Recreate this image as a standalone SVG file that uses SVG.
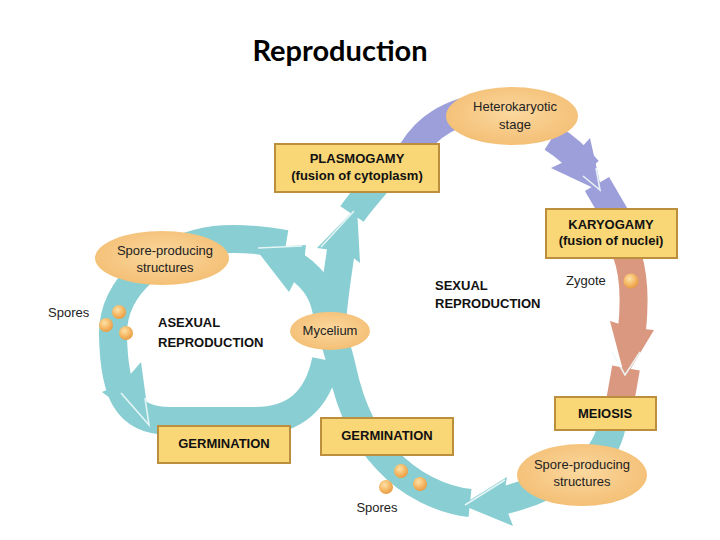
<svg xmlns="http://www.w3.org/2000/svg" width="720" height="540" viewBox="0 0 720 540">
<defs>
<radialGradient id="og" cx="50%" cy="45%" r="60%">
<stop offset="0" stop-color="#fbd89e"/>
<stop offset="1" stop-color="#f3bd72"/>
</radialGradient>
<radialGradient id="ball" cx="40%" cy="35%" r="65%">
<stop offset="0" stop-color="#fde2a8"/>
<stop offset="0.6" stop-color="#f5b865"/>
<stop offset="1" stop-color="#e99d45"/>
</radialGradient>
<style>
.teal{fill:none;stroke:#88ced2;stroke-width:28}
.purp{fill:none;stroke:#9d9fda;stroke-width:28}
.salm{fill:none;stroke:#d9987f;stroke-width:28}
.ahT{fill:#88ced2}
.ahP{fill:#9d9fda}
.ahS{fill:#d9987f}
.hl{fill:none;stroke:#eef9f9;stroke-width:1.6;stroke-opacity:0.9}
.box{fill:#f9d777;stroke:#bb8f3e;stroke-width:2}
.ell{fill:url(#og)}
.sp{fill:url(#ball)}
.lbl{font-family:"Liberation Sans",Arial,sans-serif;font-size:13px;fill:#222}
.bold{font-family:"Liberation Sans",Arial,sans-serif;font-size:13px;font-weight:bold;fill:#111}
.mid{text-anchor:middle}
</style>
</defs>
<rect width="720" height="540" fill="#ffffff"/>
<text x="340" y="61" text-anchor="middle" font-family="Lato,'Liberation Sans',sans-serif" font-weight="bold" font-size="29" fill="#000">Reproduction</text>

<g id="connectors">
<!-- asexual ring -->
<path class="teal" d="M286,244 C250,238 230,238 215,240 C160,248 112,285 113,335 C114,392 126,421 170,421 L255,421 C295,421 318,400 326,360"/>
<!-- trunks from mycelium -->
<path class="teal" d="M328,322 C326,296 316,280 296,266"/>
<path class="teal" d="M332,322 C334,295 338,272 341,250"/>
<path class="teal" d="M352,214 C360,202 368,194 376,184"/>
<!-- sexual ring -->
<path class="purp" d="M400,175 C412,145 430,120 470,110"/>
<path class="purp" d="M552,138 C568,148 578,158 588,170"/>
<path class="purp" d="M597,184 L618,220"/>
<path class="salm" d="M626,252 C634,272 635,300 632,330"/>
<path class="salm" d="M626,368 L620,402"/>
<path class="teal" d="M612,425 C608,445 598,460 580,472"/>
<path class="teal" d="M545,486 C528,494 512,499 495,502"/>
<path class="teal" d="M470,503 C442,500 410,485 387,460 C368,440 352,415 342,368 C338,350 334,340 331,330"/>
<!-- arrowheads -->
<polygon class="ahT" points="255,248 306,245 304,263 289,292"/>
<polygon class="ahT" points="357,207 360,263 346,252 317,248"/>
<polygon class="ahT" points="150,428 102,392 123,383 141,362"/>
<polygon class="ahP" points="602,192 551,168 572,158 590,138"/>
<polygon class="ahS" points="625,378 610,321 632,328 654,330"/>
<polygon class="ahT" points="462,505 507,477 503,500 513,526"/>
<!-- highlights -->
<polyline class="hl" points="258,248 302,246"/>
<polyline class="hl" points="321,247 354,211"/>
<polyline class="hl" points="121,393 149,425 145,398"/>
<polyline class="hl" points="583,176 600,190 596,168"/>
<polyline class="hl" points="612,352 625,375 640,352"/>
<polyline class="hl" points="465,505 505,480"/>
</g>

<g id="spores-left">
<circle class="sp" cx="119" cy="312" r="7"/>
<circle class="sp" cx="106" cy="325" r="7"/>
<circle class="sp" cx="126" cy="333" r="7"/>
<text class="lbl" x="48" y="317">Spores</text>
</g>
<g id="spores-bottom">
<circle class="sp" cx="401" cy="471" r="7"/>
<circle class="sp" cx="386" cy="487" r="7"/>
<circle class="sp" cx="420" cy="484" r="7"/>
<text class="lbl mid" x="377" y="512">Spores</text>
</g>
<g id="zygote">
<circle class="sp" cx="631" cy="281" r="7.5"/>
<text class="lbl" x="566" y="285">Zygote</text>
</g>

<g id="heterokaryotic">
<ellipse class="ell" cx="512" cy="116" rx="66" ry="29"/>
<text class="lbl mid" x="515" y="111">Heterokaryotic</text>
<text class="lbl mid" x="515" y="129">stage</text>
</g>
<g id="spore-producing-left">
<ellipse class="ell" cx="162" cy="258" rx="67" ry="27"/>
<text class="lbl mid" x="165" y="255">Spore-producing</text>
<text class="lbl mid" x="165" y="272">structures</text>
</g>
<g id="mycelium">
<ellipse class="ell" cx="330" cy="331" rx="40" ry="19"/>
<text class="lbl mid" x="330" y="335">Mycelium</text>
</g>
<g id="spore-producing-right">
<ellipse class="ell" cx="582" cy="475" rx="65" ry="31"/>
<text class="lbl mid" x="582" y="469">Spore-producing</text>
<text class="lbl mid" x="582" y="486">structures</text>
</g>

<g id="plasmogamy">
<rect class="box" x="275" y="144" width="164" height="48"/>
<text class="bold mid" x="357" y="163">PLASMOGAMY</text>
<text class="bold mid" x="357" y="180">(fusion of cytoplasm)</text>
</g>
<g id="karyogamy">
<rect class="box" x="546" y="209" width="131" height="49"/>
<text class="bold mid" x="611" y="229">KARYOGAMY</text>
<text class="bold mid" x="611" y="245">(fusion of nuclei)</text>
</g>
<g id="meiosis">
<rect class="box" x="555" y="397" width="101" height="33"/>
<text class="bold mid" x="605" y="418">MEIOSIS</text>
</g>
<g id="germination-left">
<rect class="box" x="158" y="426" width="132" height="37"/>
<text class="bold mid" x="224" y="448">GERMINATION</text>
</g>
<g id="germination-right">
<rect class="box" x="321" y="418" width="132" height="37"/>
<text class="bold mid" x="387" y="440">GERMINATION</text>
</g>

<g id="asexual-label">
<text class="bold" x="158" y="327">ASEXUAL</text>
<text class="bold" x="158" y="347">REPRODUCTION</text>
</g>
<g id="sexual-label">
<text class="bold" x="435" y="290">SEXUAL</text>
<text class="bold" x="435" y="308">REPRODUCTION</text>
</g>
</svg>
